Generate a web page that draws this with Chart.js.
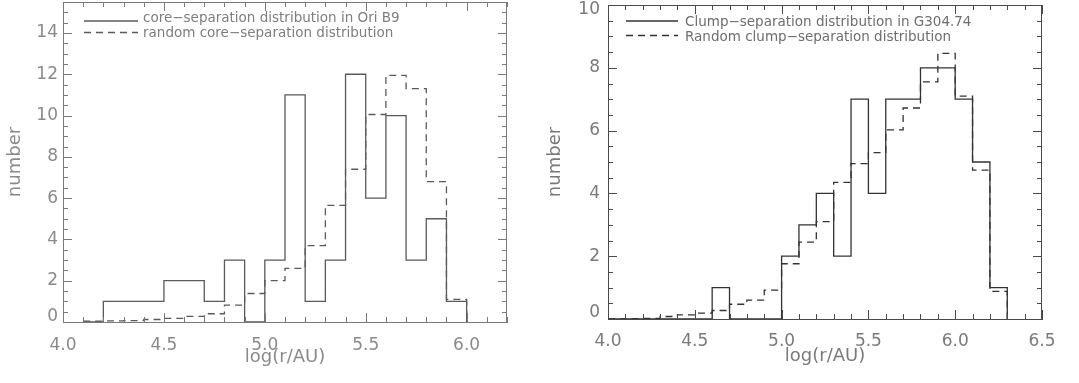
<!DOCTYPE html>
<html><head><meta charset="utf-8">
<script src="https://cdn.jsdelivr.net/npm/chart.js@4/dist/chart.umd.min.js"></script>
<style>
html,body{margin:0;padding:0;background:#fff;width:1079px;height:383px;overflow:hidden}
.p{position:absolute;top:0}
#w1{left:0;width:540px;height:383px}
#w2{left:540px;width:539px;height:383px}
</style></head><body>
<div class="p" id="w1"><canvas id="c1" width="540" height="383"></canvas></div>
<div class="p" id="w2"><canvas id="c2" width="539" height="383"></canvas></div>
<script>
// ---------- data: left panel (Ori B9) ----------
const leftBinEdges = [4.1,4.2,4.3,4.4,4.5,4.6,4.7,4.8,4.9,5.0,5.1,5.2,5.3,5.4,5.5,5.6,5.7,5.8,5.9];
const leftLastEdge = 6.0;
const leftObserved = [0,1,1,1,2,2,1,3,0,3,11,1,3,12,6,10,3,5,1];
const leftRandom = [0.04,0.05,0.07,0.12,0.18,0.27,0.4,0.82,1.38,2.0,2.6,3.7,5.65,7.4,10.05,11.95,11.3,6.8,1.1];
const leftXTicks = [4.0,4.5,5.0,5.5,6.0];
const leftYTicks = [0,2,4,6,8,10,12,14];
const leftLegend = ['core\u2212separation distribution in Ori B9','random core\u2212separation distribution'];

// ---------- data: right panel (G304.74) ----------
const rightBinEdges = [4.0,4.1,4.2,4.3,4.4,4.5,4.6,4.7,4.8,4.9,5.0,5.1,5.2,5.3,5.4,5.5,5.6,5.7,5.8,5.9,6.0,6.1,6.2];
const rightLastEdge = 6.3;
const rightObserved = [0,0,0,0,0,0,1,0,0,0,2,3,4,2,7,4,7,7,8,8,7,5,1];
const rightRandom = [0.0,0.01,0.02,0.08,0.13,0.19,0.27,0.47,0.6,0.92,1.76,2.45,3.1,4.35,4.95,5.3,6.02,6.72,7.55,8.46,7.1,4.74,0.88];
const rightXTicks = [4.0,4.5,5.0,5.5,6.0,6.5];
const rightYTicks = [0,2,4,6,8,10];
const rightLegend = ['Clump\u2212separation distribution in G304.74','Random clump\u2212separation distribution'];

const xTitle = 'log(r/AU)';
const yTitle = 'number';

Chart.defaults.font.family = "'DejaVu Sans', sans-serif";

function histPoints(edges, values, lastEdge) {
  const pts = edges.map((e, i) => ({x: e, y: values[i]}));
  pts.push({x: lastEdge, y: 0});
  return pts;
}

const framePlugin = {
  id: 'frame',
  afterDatasetsDraw(chart, args, o) {
    const {ctx, chartArea: a, scales: {x, y}} = chart;
    ctx.save();
    ctx.strokeStyle = o.color;
    ctx.lineWidth = 1;
    ctx.beginPath();
    ctx.moveTo(a.left, a.top + 0.5); ctx.lineTo(a.right, a.top + 0.5);
    ctx.moveTo(a.right - 0.5, a.top); ctx.lineTo(a.right - 0.5, a.bottom);
    const nx = Math.round((x.max - x.min) / o.xMinor);
    for (let i = 0; i <= nx; i++) {
      const v = x.min + i * o.xMinor;
      const major = o.xMajor.some(m => Math.abs(m - v) < 1e-6);
      const L = major ? o.majorLen : o.minorLen;
      const px = Math.round(x.getPixelForValue(v)) + 0.5;
      ctx.moveTo(px, a.bottom); ctx.lineTo(px, a.bottom - L);
      ctx.moveTo(px, a.top); ctx.lineTo(px, a.top + L);
    }
    const ny = Math.round((y.max - y.min) / o.yMinor);
    for (let i = 0; i <= ny; i++) {
      const v = y.min + i * o.yMinor;
      const major = o.yMajor.some(m => Math.abs(m - v) < 1e-6);
      const L = major ? o.majorLen : o.minorLen;
      const py = Math.round(y.getPixelForValue(v)) + 0.5;
      ctx.moveTo(a.left, py); ctx.lineTo(a.left + L, py);
      ctx.moveTo(a.right, py); ctx.lineTo(a.right - L, py);
    }
    ctx.stroke();
    // legend
    const lg = o.legend;
    ctx.font = lg.font;
    ctx.textBaseline = 'alphabetic';
    ctx.textAlign = 'left';
    chart.data.datasets.forEach((ds, i) => {
      ctx.strokeStyle = ds.borderColor;
      ctx.lineWidth = ds.borderWidth;
      ctx.setLineDash(ds.borderDash || []);
      ctx.beginPath();
      ctx.moveTo(lg.x0, lg.lineY[i]); ctx.lineTo(lg.x1, lg.lineY[i]);
      ctx.stroke();
      ctx.setLineDash([]);
      ctx.fillStyle = lg.color;
      ctx.fillText(ds.label, lg.tx, lg.textY[i]);
    });
    ctx.restore();
  }
};

function makeChart(id, cfg) {
  // shift of the end labels (pixels; negative = up), as IDL keeps them inside the axis
  const shiftFor = v => (v === cfg.yMin ? cfg.minShift : (v === cfg.yMax ? cfg.maxShift : 0));
  return new Chart(document.getElementById(id), {
    type: 'line',
    data: {
      datasets: [
        {label: cfg.legend[0], data: histPoints(cfg.edges, cfg.observed, cfg.lastEdge),
         borderColor: cfg.lineColor, borderWidth: 1.3, stepped: true, pointRadius: 0, fill: false},
        {label: cfg.legend[1], data: histPoints(cfg.edges, cfg.random, cfg.lastEdge),
         borderColor: cfg.lineColor, borderWidth: 1.3, borderDash: [7, 5], stepped: true, pointRadius: 0, fill: false}
      ]
    },
    options: {
      responsive: false,
      animation: false,
      events: [],
      layout: {padding: cfg.padding},
      plugins: {
        legend: {display: false},
        tooltip: {enabled: false},
        frame: {
          color: cfg.boxColor, xMinor: 0.1, yMinor: 0.5,
          xMajor: cfg.xTicks, yMajor: cfg.yTicks, majorLen: 9, minorLen: 5,
          legend: cfg.legendPos
        }
      },
      scales: {
        x: {
          type: 'linear', min: cfg.xMin, max: cfg.xMax,
          afterBuildTicks: s => { s.ticks = cfg.xTicks.map(v => ({value: v})); },
          afterFit: s => { s.height = cfg.xHeight; s.paddingLeft = 0; s.paddingRight = 0; s.paddingTop = 0; s.paddingBottom = 0; },
          ticks: {font: {size: 17}, color: cfg.textColor, padding: cfg.xPad, maxRotation: 0,
                  callback: v => Number(v).toFixed(1)},
          grid: {display: true, drawOnChartArea: false, drawTicks: false},
          border: {display: true, color: cfg.boxColor, width: 1},
          title: {display: true, text: xTitle, font: {size: 18}, color: cfg.textColor,
                  padding: {top: 0, bottom: cfg.titlePad}}
        },
        y: {
          type: 'linear', min: cfg.yMin, max: cfg.yMax,
          afterBuildTicks: s => { s.ticks = cfg.yTicks.map(v => ({value: v})); },
          afterFit: s => { s.width = cfg.yWidth; s.paddingLeft = 0; s.paddingRight = 0; s.paddingTop = 0; s.paddingBottom = 0; },
          ticks: {
            color: cfg.textColor, padding: cfg.yPad,
            font: c => {
              const sh = c.tick ? shiftFor(c.tick.value) : 0;
              return sh ? {size: 17, lineHeight: (2 * Math.abs(sh)) / 17} : {size: 17};
            },
            callback: v => {
              const sh = shiftFor(v);
              if (sh < 0) return [String(v), ''];
              if (sh > 0) return ['', String(v)];
              return String(v);
            }
          },
          grid: {display: true, drawOnChartArea: false, drawTicks: false},
          border: {display: true, color: cfg.boxColor, width: 1},
          title: {display: true, text: yTitle, font: {size: 18}, color: cfg.textColor,
                  padding: {top: 5, bottom: 0}}
        }
      }
    },
    plugins: [framePlugin]
  });
}

makeChart('c1', {
  edges: leftBinEdges, lastEdge: leftLastEdge, observed: leftObserved, random: leftRandom,
  xTicks: leftXTicks, yTicks: leftYTicks, legend: leftLegend,
  xMin: 4.0, xMax: 6.2, yMin: 0, yMax: 15.5, minShift: -5, maxShift: 0,
  padding: {left: 0, right: 33, top: 2, bottom: 0}, xHeight: 61, yWidth: 63, yPad: 5,
  xPad: 13, titlePad: 15,
  lineColor: '#5a5a5a', boxColor: '#7a7a7a', textColor: '#8a8a8a',
  legendPos: {x0: 84, x1: 138, tx: 143, lineY: [21, 32.5], textY: [22, 36.5],
              font: "13.5px 'DejaVu Sans'", color: '#7e7e7e'}
});

makeChart('c2', {
  edges: rightBinEdges, lastEdge: rightLastEdge, observed: rightObserved, random: rightRandom,
  xTicks: rightXTicks, yTicks: rightYTicks, legend: rightLegend,
  xMin: 4.0, xMax: 6.5, yMin: 0, yMax: 10, minShift: -6, maxShift: 5,
  padding: {left: 0, right: 37, top: 5, bottom: 0}, xHeight: 64, yWidth: 68, yPad: 8,
  xPad: 12, titlePad: 16,
  lineColor: '#333333', boxColor: '#4a4a4a', textColor: '#7a7a7a',
  legendPos: {x0: 86, x1: 138, tx: 145, lineY: [21, 35.5], textY: [25.5, 40.5],
              font: "13.5px 'DejaVu Sans'", color: '#6e6e6e'}
});
</script>
</body></html>
